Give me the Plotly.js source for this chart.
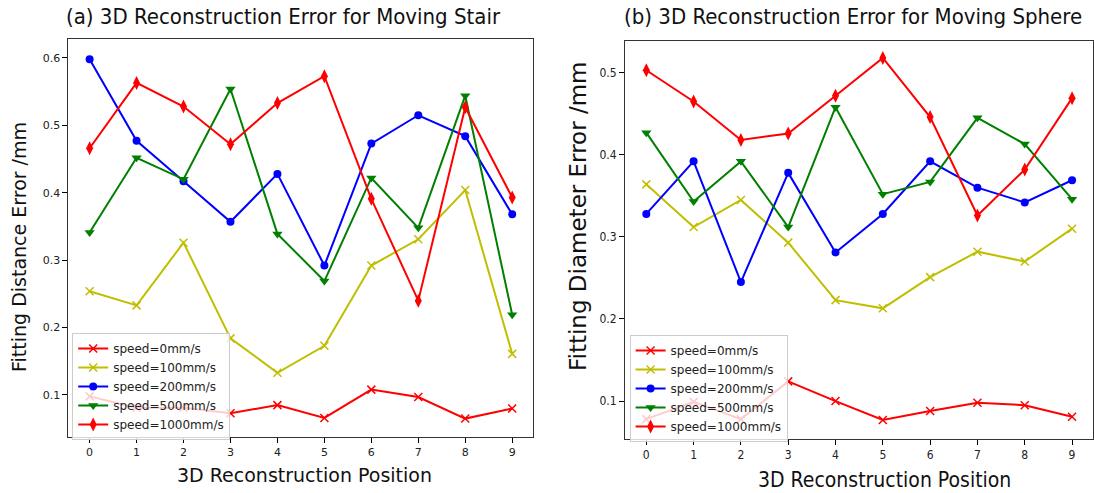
<!DOCTYPE html>
<html>
<head>
<meta charset="utf-8">
<script src="https://cdn.plot.ly/plotly-3.0.1.min.js"></script>
<style>html,body{margin:0;padding:0;background:#fff;}#chart{width:1094px;height:493px;}</style>
</head>
<body>
<div id="chart"></div>
<script>
// ---- data ----
const positions = [0, 1, 2, 3, 4, 5, 6, 7, 8, 9];
const seriesNames = ['speed=0mm/s', 'speed=100mm/s', 'speed=200mm/s', 'speed=500mm/s', 'speed=1000mm/s'];

// (a) Moving Stair - fitting distance error (mm)
const stair0    = [0.098, 0.081, 0.081, 0.073, 0.085, 0.066, 0.108, 0.097, 0.065, 0.080];
const stair100  = [0.254, 0.233, 0.326, 0.184, 0.133, 0.173, 0.292, 0.331, 0.404, 0.161];
const stair200  = [0.598, 0.477, 0.417, 0.357, 0.428, 0.292, 0.473, 0.515, 0.484, 0.368];
const stair500  = [0.341, 0.452, 0.420, 0.554, 0.339, 0.269, 0.422, 0.348, 0.544, 0.219];
const stair1000 = [0.466, 0.563, 0.528, 0.472, 0.533, 0.573, 0.391, 0.240, 0.527, 0.393];

// (b) Moving Sphere - fitting diameter error (mm)
const sphere0    = [0.078, 0.099, 0.078, 0.124, 0.100, 0.077, 0.088, 0.098, 0.095, 0.081];
const sphere100  = [0.364, 0.312, 0.345, 0.293, 0.223, 0.213, 0.251, 0.282, 0.270, 0.310];
const sphere200  = [0.328, 0.392, 0.245, 0.378, 0.281, 0.328, 0.392, 0.360, 0.342, 0.369];
const sphere500  = [0.427, 0.343, 0.392, 0.312, 0.458, 0.352, 0.367, 0.445, 0.413, 0.346];
const sphere1000 = [0.503, 0.465, 0.418, 0.426, 0.472, 0.518, 0.446, 0.326, 0.382, 0.469];

const xTickLabels = ['0', '1', '2', '3', '4', '5', '6', '7', '8', '9'];
const stairYTicks = [0.1, 0.2, 0.3, 0.4, 0.5, 0.6];
const sphereYTicks = [0.1, 0.2, 0.3, 0.4, 0.5];

const titleA = '(a) 3D Reconstruction Error for Moving Stair';
const titleB = '(b) 3D Reconstruction Error for Moving Sphere';
const xLabel = '3D Reconstruction Position';
const yLabelA = 'Fitting Distance Error /mm';
const yLabelB = 'Fitting Diameter Error /mm';

// ---- styles ----
const styles = [
  {color: '#ff0000', symbol: 'x-thin', size: 8},
  {color: '#bfbf00', symbol: 'x-thin', size: 8},
  {color: '#0000ff', symbol: 'circle', size: 8},
  {color: '#008000', symbol: 'triangle-down', size: 9},
  {color: '#ff0000', symbol: 'diamond-tall', size: 10}
];

function mk(y, i, xa, ya, leg) {
  const s = styles[i];
  const thin = s.symbol === 'x-thin';
  return {
    x: positions, y: y, type: 'scatter', mode: 'lines+markers',
    name: seriesNames[i], xaxis: xa, yaxis: ya, legend: leg,
    line: {color: s.color, width: 2},
    marker: {symbol: s.symbol, size: s.size, color: s.color,
             line: {color: s.color, width: thin ? 1.5 : 0}}
  };
}

const stair = [stair0, stair100, stair200, stair500, stair1000];
const sphere = [sphere0, sphere100, sphere200, sphere500, sphere1000];
const traces = [];
stair.forEach((y, i) => traces.push(mk(y, i, 'x', 'y', 'legend')));
sphere.forEach((y, i) => traces.push(mk(y, i, 'x2', 'y2', 'legend2')));

const tickFont = {family: 'DejaVu Sans', size: 11, color: '#222'};
const tickFontB = {family: 'DejaVu Sans Condensed, DejaVu Sans', size: 12, color: '#222'};

function xaxis(domain, font) {
  return {domain: domain, range: [-0.45, 9.45], tickvals: positions, ticktext: xTickLabels,
          ticks: 'outside', ticklen: 5, tickcolor: '#000', showgrid: false, zeroline: false,
          showline: true, mirror: true, linecolor: '#333', linewidth: 1, tickfont: font};
}
function yaxis(domain, range, vals, font, anchor) {
  return {domain: domain, range: range, tickvals: vals, ticktext: vals.map(v => v.toFixed(1)),
          ticks: 'outside', ticklen: 5, tickcolor: '#000', showgrid: false, zeroline: false,
          showline: true, mirror: true, linecolor: '#333', linewidth: 1, tickfont: font, anchor: anchor};
}

const legendBase = {bgcolor: 'rgba(255,255,255,0.8)', bordercolor: '#cccccc', borderwidth: 1,
                    font: {family: 'DejaVu Sans', size: 12, color: '#222'},
                    xanchor: 'left', yanchor: 'top', tracegroupgap: 0, itemwidth: 30};

function ann(text, xpx, ypx, font, angle) {
  return {text: text, xref: 'paper', yref: 'paper', x: xpx / 1094, y: 1 - ypx / 493,
          xanchor: 'center', yanchor: 'middle', showarrow: false, textangle: angle || 0, font: font};
}

const titleFont = {family: 'Liberation Sans Narrow, DejaVu Sans Condensed', size: 22, color: '#111'};

const layout = {
  width: 1094, height: 493, margin: {l: 0, r: 0, t: 0, b: 0},
  paper_bgcolor: '#fff', plot_bgcolor: '#fff', showlegend: true,
  xaxis: xaxis([0.0626, 0.4875], tickFont),
  yaxis: yaxis([0.1136, 0.9199], [0.0377, 0.6274], stairYTicks, tickFont, 'x'),
  xaxis2: Object.assign(xaxis([0.5713, 0.9994], tickFontB), {anchor: 'y2'}),
  yaxis2: yaxis([0.1095, 0.9178], [0.0538, 0.5392], sphereYTicks, tickFontB, 'x2'),
  legend: Object.assign({}, legendBase, {x: 0.066, y: 1 - 333 / 493}),
  legend2: Object.assign({}, legendBase, {x: 0.5755, y: 1 - 335 / 493}),
  annotations: [
    ann(titleA, 284, 16, titleFont),
    ann(titleB, 853, 16, titleFont),
    ann(xLabel, 305, 475, {family: 'DejaVu Sans', size: 19, color: '#111'}),
    ann(xLabel, 884, 480, {family: 'DejaVu Sans Condensed, DejaVu Sans', size: 21, color: '#111'}),
    ann(yLabelA, 19, 247, {family: 'DejaVu Sans', size: 19, color: '#111'}, -90),
    ann(yLabelB, 578, 217, {family: 'DejaVu Sans', size: 23, color: '#111'}, -90)
  ]
};

Plotly.newPlot('chart', traces, layout, {displayModeBar: false, staticPlot: true});
</script>
</body>
</html>
